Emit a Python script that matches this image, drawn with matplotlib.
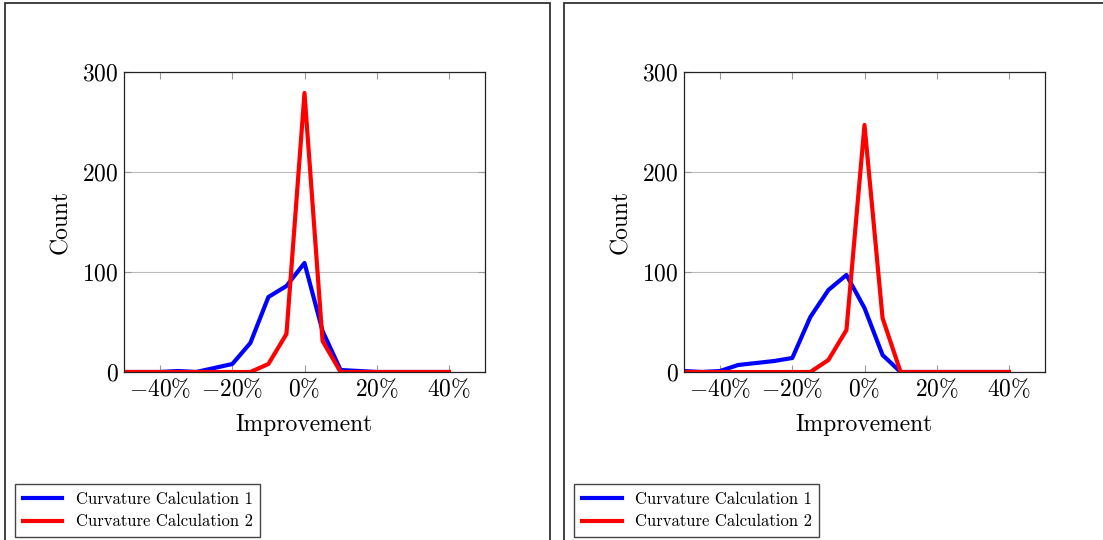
import matplotlib
matplotlib.use("Agg")
import matplotlib.patches as mpatches
from matplotlib import pyplot as plt

plt.rcParams["font.family"] = "cmr10"
plt.rcParams["mathtext.fontset"] = "cm"
plt.rcParams["axes.unicode_minus"] = False

# improvement bins (percent)
mejora = [-50, -45, -40, -35, -30, -25, -20, -15, -10, -5, 0, 5, 10, 15, 20, 25, 30, 35, 40]

# left panel
izq_calc1 = [0, 0, 0, 1, 0, 4, 8, 29, 75, 86, 109, 41, 2, 1, 0, 0, 0, 0, 0]
izq_calc2 = [0, 0, 0, 0, 0, 0, 0, 0, 8, 38, 279, 31, 0, 0, 0, 0, 0, 0, 0]

# right panel
der_calc1 = [1, 0, 1, 7, 9, 11, 14, 55, 82, 97, 64, 17, 0, 0, 0, 0, 0, 0, 0]
der_calc2 = [0, 0, 0, 0, 0, 0, 0, 0, 12, 42, 247, 54, 0, 0, 0, 0, 0, 0, 0]

xticks = [-40, -20, 0, 20, 40]
xlabels = [r"$-40\%$", r"$-20\%$", r"$0\%$", r"$20\%$", r"$40\%$"]
yticks = [0, 100, 200, 300]
ylabels = [r"$0$", r"$100$", r"$200$", r"$300$"]

W, H = 1103, 540
fig = plt.figure(figsize=(W / 100, H / 100), dpi=100)


def panel(x0, frame_x, datos1, datos2):
    # frame around the panel
    rect = mpatches.Rectangle((frame_x / W, -0.05), 545 / W, 1.05 - 3 / H,
                              transform=fig.transFigure, fill=False,
                              edgecolor="#333333", linewidth=1.3)
    fig.patches.append(rect)

    ax = fig.add_axes([x0 / W, 168 / H, 361 / W, 300 / H])
    ax.plot(mejora, datos1, color="blue", linewidth=3, label="Curvature Calculation 1")
    ax.plot(mejora, datos2, color="red", linewidth=3, label="Curvature Calculation 2")
    ax.set_xlim(-50, 50)
    ax.set_ylim(0, 300)
    ax.set_xticks(xticks)
    ax.set_xticklabels(xlabels)
    ax.set_yticks(yticks)
    ax.set_yticklabels(ylabels)
    ax.tick_params(direction="in", length=5, color="#999999", labelsize=17,
                   top=True, right=True, pad=4)
    ax.grid(axis="y", color="#bbbbbb", linewidth=0.8)
    ax.set_axisbelow(True)
    for s in ax.spines.values():
        s.set_color("#222222")
        s.set_linewidth(0.9)
    ax.set_xlabel("Improvement", fontsize=17, labelpad=9)
    ax.set_ylabel("Count", fontsize=17, labelpad=7)

    fig.legend(handles=ax.get_lines(), loc="lower left",
               bbox_to_anchor=((frame_x + 10) / W, 3 / H), borderaxespad=0,
               fontsize=12, fancybox=False, framealpha=1, edgecolor="#444444",
               handlelength=2.4, handletextpad=0.8, borderpad=0.45,
               labelspacing=0.45)
    return ax


panel(124, 5, izq_calc1, izq_calc2)
panel(684, 564, der_calc1, der_calc2)

fig.savefig("out.png", dpi=100)
